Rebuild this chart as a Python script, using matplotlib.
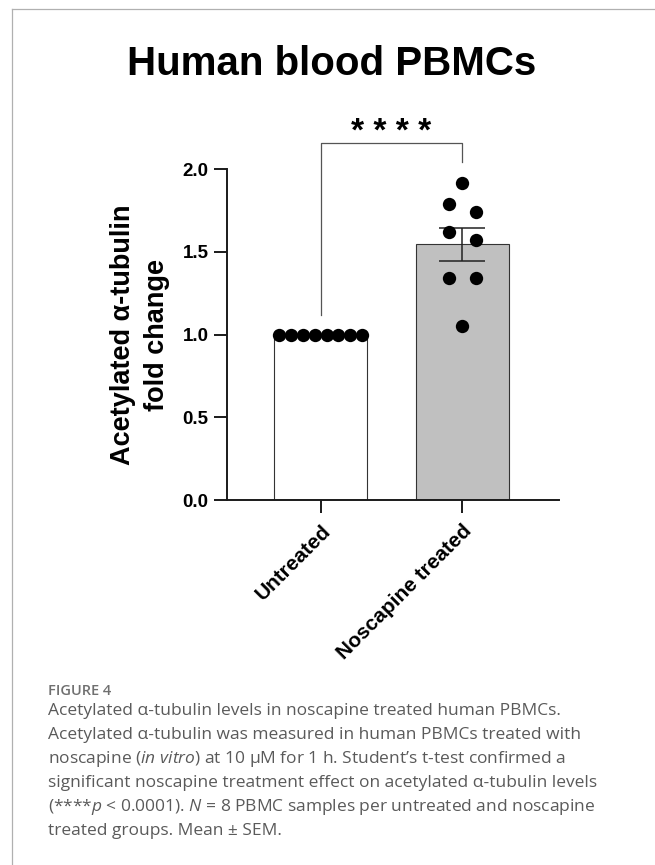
import matplotlib
matplotlib.use("Agg")
import matplotlib.pyplot as plt
import numpy as np
from matplotlib.lines import Line2D

plt.rcParams['font.family'] = ['Liberation Sans', 'DejaVu Sans']
plt.rcParams['mathtext.fontset'] = 'custom'
plt.rcParams['mathtext.rm'] = 'Open Sans'
plt.rcParams['mathtext.it'] = 'Open Sans:italic'

# data
groups = ["Untreated", "Noscapine treated"]
untreated = [1.0, 1.0, 1.0, 1.0, 1.0, 1.0, 1.0, 1.0]
noscapine = [1.92, 1.79, 1.74, 1.62, 1.57, 1.34, 1.34, 1.05]
yticks = [0.0, 0.5, 1.0, 1.5, 2.0]
stars = "* * * *"

caption = [
    "Acetylated α-tubulin levels in noscapine treated human PBMCs.",
    "Acetylated α-tubulin was measured in human PBMCs treated with",
    r"noscapine ($\mathit{in\ vitro}$) at 10 µM for 1 h. Student’s t-test confirmed a",
    "significant noscapine treatment effect on acetylated α-tubulin levels",
    r"(****$\mathit{p}$ < 0.0001). $\mathit{N}$ = 8 PBMC samples per untreated and noscapine",
    "treated groups. Mean ± SEM.",
]

W, H = 655, 865
fig = plt.figure(figsize=(W / 100, H / 100), dpi=100)

# thin gray frame on top and left
fig.add_artist(Line2D([12 / W, 1], [1 - 9 / H, 1 - 9 / H], color='#b0b0b0', lw=0.9))
fig.add_artist(Line2D([12 / W, 12 / W], [0, 1 - 9 / H], color='#b0b0b0', lw=0.9))

ax = fig.add_axes([227 / W, 1 - 500 / H, (559 - 227) / W, (500 - 169.3) / H])

data = [np.array(untreated), np.array(noscapine)]
means = [d.mean() for d in data]
sems = [d.std(ddof=1) / np.sqrt(len(d)) for d in data]
xpos = np.arange(len(groups))

ax.bar(xpos, means, width=0.66, color=['white', '#c0c0c0'],
       edgecolor='#333333', linewidth=0.8, zorder=1)
ax.errorbar(xpos[1:], means[1:], yerr=sems[1:], fmt='none', ecolor='#222222',
            elinewidth=1.1, capsize=16.8, capthick=1.1, zorder=2)

jitter = [(np.arange(8) - 3.5) * 0.0834,
          np.array([0, -0.094, 0.094, -0.094, 0.094, -0.094, 0.094, 0])]
for i, d in enumerate(data):
    ax.scatter(xpos[i] + jitter[i], d, s=92, color='black', zorder=3,
               clip_on=False, linewidths=0)

# significance bracket
ax.plot([0, 0, 1, 1], [1.119, 2.158, 2.158, 2.043], color='#555555',
        lw=0.9, clip_on=False)
ax.text(0.5, 2.172, stars, ha='center', va='baseline', fontsize=24,
        fontweight='bold', clip_on=False)

ax.set_xlim(-0.662, 1.683)
ax.set_ylim(0, 2.0)
ax.set_yticks(yticks)
ax.set_yticklabels([f"{v:.1f}" for v in yticks])
ax.set_xticks(xpos)
ax.set_xticklabels(groups)
for s in ['top', 'right']:
    ax.spines[s].set_visible(False)
for s in ['left', 'bottom']:
    ax.spines[s].set_linewidth(1.4)
    ax.spines[s].set_color('#1a1a1a')
ax.tick_params(axis='both', length=9.4, width=1.4, color='#1a1a1a')
ax.tick_params(axis='y', labelsize=13.5, pad=4)
ax.tick_params(axis='x', labelsize=15, pad=6)
for lab in ax.get_yticklabels():
    lab.set_fontweight('bold')
for lab in ax.get_xticklabels():
    lab.set_fontweight('bold')
    lab.set_rotation(45)
    lab.set_ha('right')
    lab.set_va('top')
    lab.set_rotation_mode('anchor')

fig.text(140 / W, 1 - 334.6 / H, "Acetylated α-tubulin\nfold change",
         rotation=90, ha='center', va='center', multialignment='center',
         fontsize=19.5, fontweight='bold', linespacing=1.4)

fig.text(331.7 / W, 1 - 75 / H, "Human blood PBMCs", ha='center',
         va='baseline', fontsize=29, fontweight='bold')

# caption
fig.text(48 / W, 1 - 695 / H, "FIGURE 4", ha='left', va='baseline',
         fontsize=10.5, fontweight='semibold', color='#707070',
         family='Open Sans')
for k, line in enumerate(caption):
    fig.text(48 / W, 1 - (715 + 24 * k) / H, line, ha='left', va='baseline',
             fontsize=12.5, color='#5a5a5a', family='Open Sans')

fig.savefig("out.png", dpi=100)
